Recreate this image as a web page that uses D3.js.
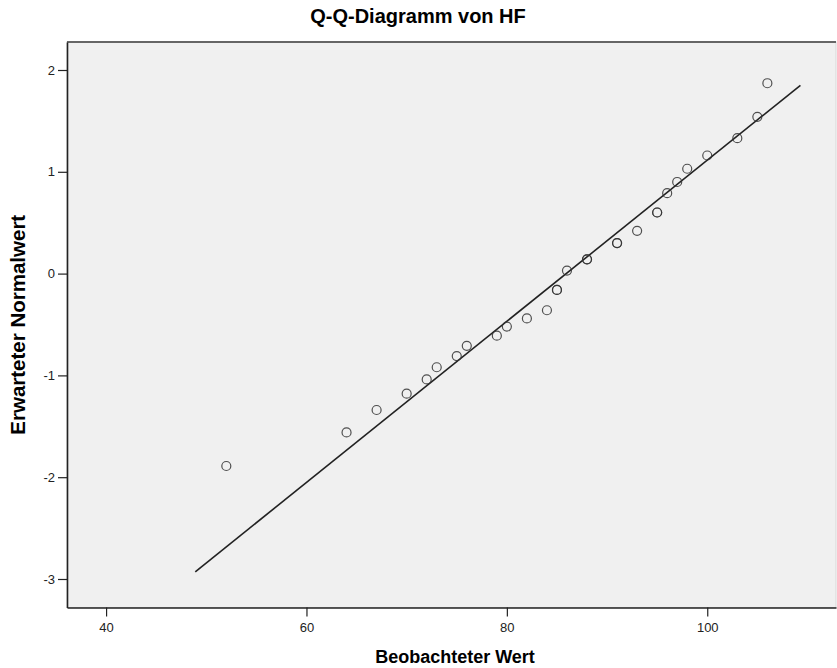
<html>
<head>
<meta charset="utf-8">
<title>Q-Q-Diagramm von HF</title>
<style>
  body { margin: 0; background: #fff; }
  text { font-family: "Liberation Sans", Arial, sans-serif; }
</style>
</head>
<body>
<script src="https://cdn.jsdelivr.net/npm/d3@7"></script>
<script>
// beobachtete Werte (HF) und erwartete Normalwerte
var observed = [52, 64, 67, 70, 72, 73, 75, 76, 79, 80, 82, 84, 85, 85, 86, 88, 88, 91, 91, 93, 95, 95, 96, 97, 98, 100, 103, 105, 106];
var expected = [-1.89, -1.56, -1.34, -1.18, -1.04, -0.92, -0.81, -0.71, -0.61, -0.52, -0.44, -0.36, -0.16, -0.16, 0.03, 0.14, 0.14, 0.30, 0.30, 0.42, 0.60, 0.60, 0.79, 0.90, 1.03, 1.16, 1.33, 1.54, 1.87];
// Referenzlinie (Anfang und Ende)
var lineX = [48.9, 109.3];
var lineY = [-2.93, 1.85];
var xTicks = [40, 60, 80, 100];
var yTicks = [-3, -2, -1, 0, 1, 2];

var width = 837;
var height = 668;
var pLeft = 67, pRight = 836, pTop = 42, pBottom = 607.5;

var svg = d3.select("body").append("svg")
  .attr("width", width)
  .attr("height", height);

var x = d3.scaleLinear().domain([36.1, 112.85]).range([pLeft, pRight]);
var y = d3.scaleLinear().domain([-3.28, 2.275]).range([pBottom, pTop]);

// Hintergrund
svg.append("rect")
  .attr("x", pLeft).attr("y", pTop)
  .attr("width", pRight - pLeft).attr("height", pBottom - pTop)
  .attr("fill", "#f0f0f0")
  .attr("stroke", "#d8d8d8");

// oberer Rand
svg.append("line")
  .attr("x1", pLeft).attr("x2", pRight)
  .attr("y1", pTop).attr("y2", pTop)
  .attr("stroke", "#666").attr("stroke-width", 2);

// Achsen
var fmt = function(d) { return String(d); };
var xAxis = svg.append("g")
  .attr("transform", "translate(0," + pBottom + ")")
  .call(d3.axisBottom(x).tickValues(xTicks).tickFormat(fmt).tickSize(9).tickPadding(6).tickSizeOuter(0));
var yAxis = svg.append("g")
  .attr("transform", "translate(" + pLeft + ",0)")
  .call(d3.axisLeft(y).tickValues(yTicks).tickFormat(fmt).tickSize(9).tickPadding(3).tickSizeOuter(0));

[xAxis, yAxis].forEach(function(g) {
  g.select(".domain").attr("stroke", "#222").attr("stroke-width", 1.6);
  g.selectAll(".tick line").attr("stroke", "#222").attr("stroke-width", 1.2);
  g.selectAll(".tick text")
    .attr("fill", "#222")
    .style("font-family", "'Liberation Sans', Arial, sans-serif")
    .style("font-size", "13px");
});

// Referenzlinie
svg.append("line")
  .attr("x1", x(lineX[0])).attr("y1", y(lineY[0]))
  .attr("x2", x(lineX[1])).attr("y2", y(lineY[1]))
  .attr("stroke", "#222")
  .attr("stroke-width", 1.6);

// Punkte
svg.selectAll("circle.pt")
  .data(observed)
  .enter().append("circle")
  .attr("class", "pt")
  .attr("cx", function(d) { return x(d); })
  .attr("cy", function(d, i) { return y(expected[i]); })
  .attr("r", 4.5)
  .attr("fill", "none")
  .attr("stroke", "#333")
  .attr("stroke-width", 1.2)
  .attr("stroke-opacity", 0.85);

// Titel
svg.append("text")
  .attr("x", 418).attr("y", 23)
  .attr("text-anchor", "middle")
  .style("font-size", "20px").style("font-weight", "bold")
  .text("Q-Q-Diagramm von HF");

svg.append("text")
  .attr("x", 455).attr("y", 663)
  .attr("text-anchor", "middle")
  .style("font-size", "18px").style("font-weight", "bold")
  .text("Beobachteter Wert");

svg.append("text")
  .attr("transform", "translate(25," + (pTop + pBottom) / 2 + ") rotate(-90)")
  .attr("text-anchor", "middle")
  .style("font-size", "20.5px").style("font-weight", "bold")
  .text("Erwarteter Normalwert");
</script>
</body>
</html>
